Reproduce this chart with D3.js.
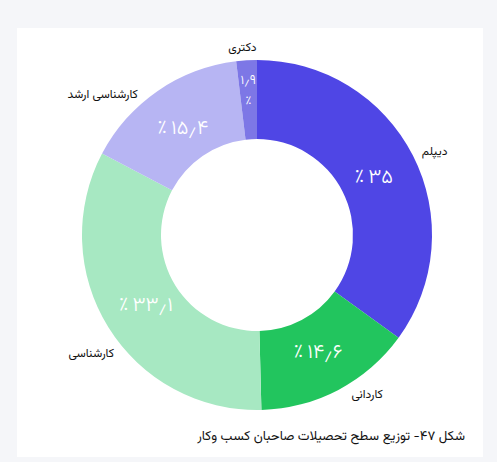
<!DOCTYPE html>
<html lang="fa">
<head>
    <meta charset="UTF-8">
    <script src="https://d3js.org/d3.v7.min.js"></script>
    <title>توزیع سطح تحصیلات</title>
    <style>
        html, body { margin: 0; padding: 0; background: #f5f6f9; }
        svg { display: block; }
        text { font-family: "Vazirmatn", "Noto Sans Arabic", "DejaVu Sans", sans-serif; }
    </style>
</head>
<body>
    <script>
        // data
        var categories = ['دیپلم', 'کاردانی', 'کارشناسی', 'کارشناسی ارشد', 'دکتری'];
        var shares = [35, 14.6, 33.1, 15.4, 1.9];
        var caption = 'شکل ۴۷- توزیع سطح تحصیلات صاحبان کسب وکار';

        var colors = ['#4f46e5', '#22c55e', '#a7e8c2', '#b7b5f3', '#7d77e6'];
        // small angle nudges (degrees) for the outside labels
        var labelNudge = [0, -3, -7.5, -5.5, -1];

        var width = 497, height = 462;
        var cx = 257, cy = 235;
        var outerR = 175, innerR = 96;

        var faNum = function(v) {
            return v.toLocaleString('fa-IR');
        };

        var svg = d3.select('body')
            .append('svg')
            .attr('width', width)
            .attr('height', height);

        // card
        svg.append('rect')
            .attr('x', 17)
            .attr('y', 28)
            .attr('width', 466)
            .attr('height', 429)
            .attr('fill', '#ffffff');

        var data = categories.map(function(c, i) {
            return { name: c, value: shares[i], i: i };
        });

        var pie = d3.pie()
            .sort(null)
            .value(function(d) { return d.value; });

        var arc = d3.arc()
            .innerRadius(innerR)
            .outerRadius(outerR);

        var arcs = pie(data);

        var g = svg.append('g')
            .attr('transform', 'translate(' + cx + ',' + cy + ')');

        g.selectAll('path')
            .data(arcs)
            .enter()
            .append('path')
            .attr('d', arc)
            .attr('fill', function(d) { return colors[d.data.i]; });

        // percentage labels inside the ring
        var pctArc = d3.arc().innerRadius(131).outerRadius(131);
        var wrapArc = d3.arc().innerRadius(146).outerRadius(146);

        arcs.forEach(function(d) {
            var small = (d.endAngle - d.startAngle) < 0.2;
            var p = small ? wrapArc.centroid(d) : pctArc.centroid(d);
            if (small) {
                // too narrow: number and sign on two separate lines
                var lines = [faNum(d.data.value), '٪'];
                lines.forEach(function(s, k) {
                    g.append('text')
                        .attr('x', p[0])
                        .attr('y', p[1] - 10 + k * 20)
                        .attr('dy', '0.35em')
                        .attr('text-anchor', 'middle')
                        .attr('fill', '#ffffff')
                        .attr('font-size', '13px')
                        .attr('font-weight', 300)
                        .text(s);
                });
            } else {
                g.append('text')
                    .attr('x', p[0])
                    .attr('y', p[1])
                    .attr('dy', '0.35em')
                    .attr('text-anchor', 'middle')
                    .attr('fill', '#ffffff')
                    .attr('font-size', '20px')
                    .attr('font-weight', 300)
                    .text('٪\u2009' + faNum(d.data.value));
            }
        });

        // category labels outside the ring
        arcs.forEach(function(d) {
            var a = (d.startAngle + d.endAngle) / 2 + labelNudge[d.data.i] * Math.PI / 180;
            var top = Math.abs(Math.sin(a)) < 0.15;
            var r = top ? 189 : 185;
            var x = r * Math.sin(a), y = -r * Math.cos(a);
            g.append('text')
                .attr('x', x)
                .attr('y', y)
                .attr('dy', '0.35em')
                .attr('text-anchor', top ? 'middle' : (x > 0 ? 'start' : 'end'))
                .attr('font-size', '12px')
                .attr('fill', '#111111')
                .text(d.data.name);
        });

        svg.append('text')
            .attr('x', 465)
            .attr('y', 435)
            .attr('dy', '0.35em')
            .attr('direction', 'rtl')
            .attr('text-anchor', 'start')
            .attr('font-size', '13.3px')
            .attr('fill', '#111111')
            .text(caption);
    </script>
</body>
</html>
